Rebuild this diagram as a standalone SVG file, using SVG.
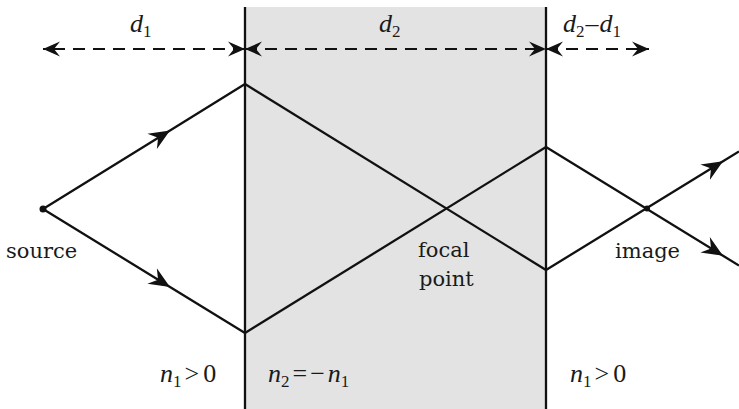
<svg xmlns="http://www.w3.org/2000/svg" width="739" height="409" viewBox="0 0 739 409">
<defs>
<style>
.ray{fill:none;stroke:#111;stroke-width:2.3;stroke-linejoin:miter}
.bnd{stroke:#111;stroke-width:2.3}
.dim{fill:none;stroke:#111;stroke-width:2.2;stroke-dasharray:12 8}
.lbl{font-family:"DejaVu Serif","Liberation Serif",serif;font-size:21px;fill:#1a1a1a}
.math{font-family:"Liberation Serif","DejaVu Serif",serif;font-size:26px;fill:#1a1a1a}
.it{font-style:italic}
.sub{font-size:17px}
</style>
<marker id="rayArrow" viewBox="-21 -10 23 20" refX="0" refY="0" markerWidth="23" markerHeight="20" markerUnits="userSpaceOnUse" orient="auto">
<path d="M0,0 L-21,-9 L-14,0 L-21,9 Z" fill="#111"/>
</marker>
<marker id="dimArrow" viewBox="-17 -8 19 16" refX="0" refY="0" markerWidth="19" markerHeight="16" markerUnits="userSpaceOnUse" orient="auto-start-reverse">
<path d="M0,0 L-17,-7.5 L-11,0 L-17,7.5 Z" fill="#111"/>
</marker>
</defs>
<rect width="739" height="409" fill="#ffffff"/>
<g id="slab">
<rect x="245" y="7" width="301" height="402" fill="#e3e3e3"/>
</g>
<g id="boundaries">
<line class="bnd" x1="245" y1="7" x2="245" y2="409"/>
<line class="bnd" x1="546" y1="7" x2="546" y2="409"/>
</g>
<g id="connectors">
<polyline class="ray" points="43,209 170,130.4 245,84" marker-mid="url(#rayArrow)"/>
<polyline class="ray" points="43,209 170,287 245,333" marker-mid="url(#rayArrow)"/>
<polyline class="ray" points="245,84 546,270"/>
<polyline class="ray" points="245,333 546,147"/>
<polyline class="ray" points="546,270 723,161.3 739,151.5" marker-mid="url(#rayArrow)"/>
<polyline class="ray" points="546,147 723,255.7 739,265.5" marker-mid="url(#rayArrow)"/>
<line class="dim" x1="245" y1="49" x2="43" y2="49" marker-end="url(#dimArrow)" marker-start="url(#dimArrow)"/>
<line class="dim" x1="245" y1="49" x2="546" y2="49" marker-start="url(#dimArrow)" marker-end="url(#dimArrow)"/>
<line class="dim" x1="546" y1="49" x2="649" y2="49" marker-start="url(#dimArrow)" marker-end="url(#dimArrow)"/>
</g>
<g id="source">
<circle cx="43" cy="209" r="3.5" fill="#111"/>
<text class="lbl" x="6" y="258">source</text>
</g>
<g id="focal-point">
<text class="lbl" x="418" y="257">focal</text>
<text class="lbl" x="419" y="286">point</text>
</g>
<g id="image">
<circle cx="647" cy="208.5" r="3" fill="#111"/>
<text class="lbl" x="615" y="258">image</text>
</g>
<g id="dim-labels">
<text class="math" x="130" y="32"><tspan class="it">d</tspan><tspan class="sub" dy="5">1</tspan></text>
<text class="math" x="379" y="32"><tspan class="it">d</tspan><tspan class="sub" dy="5">2</tspan></text>
<text class="math" x="563" y="32"><tspan class="it">d</tspan><tspan class="sub" dy="5">2</tspan><tspan dy="-5" dx="1">–</tspan><tspan class="it" dx="1">d</tspan><tspan class="sub" dy="5">1</tspan></text>
</g>
<g id="index-labels">
<text class="math" x="160" y="382"><tspan class="it">n</tspan><tspan class="sub" dy="5">1</tspan><tspan dy="-5" dx="3">&gt;</tspan><tspan dx="4">0</tspan></text>
<text class="math" x="268" y="382"><tspan class="it">n</tspan><tspan class="sub" dy="5">2</tspan><tspan dy="-5" dx="3">=</tspan><tspan dx="3">−</tspan><tspan class="it" dx="3">n</tspan><tspan class="sub" dy="5">1</tspan></text>
<text class="math" x="570" y="382"><tspan class="it">n</tspan><tspan class="sub" dy="5">1</tspan><tspan dy="-5" dx="3">&gt;</tspan><tspan dx="4">0</tspan></text>
</g>
</svg>
